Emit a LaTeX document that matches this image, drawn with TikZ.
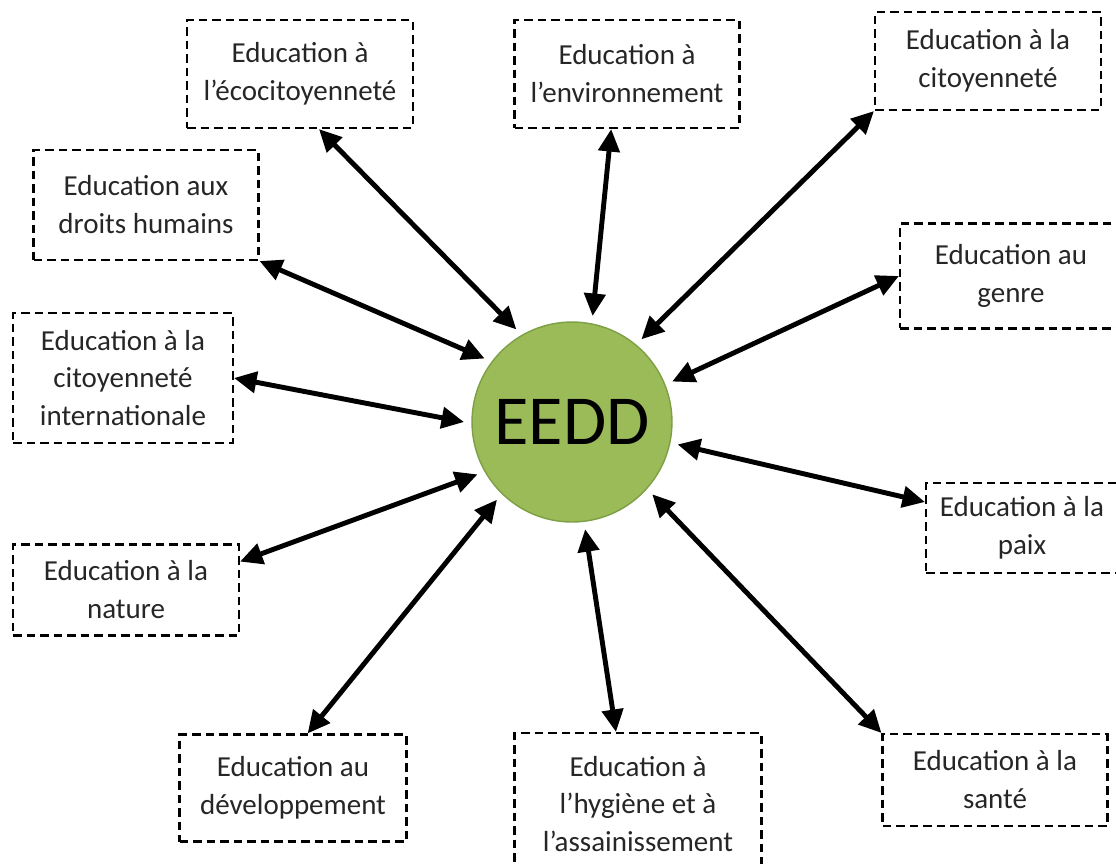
\documentclass[tikz,border=0pt]{standalone}
\usepackage{fontspec}
\setmainfont{Carlito}
\usetikzlibrary{arrows.meta}
\definecolor{olive}{RGB}{155,187,89}
\definecolor{olivedark}{RGB}{125,160,70}

\begin{document}
\begin{tikzpicture}[x=0.02cm, y=-0.02cm,
    box/.style={draw, dashed, dash pattern=on 0.17cm off 0.1cm, line width=1.2pt,
      minimum width=4.5cm, minimum height=2.16cm, align=center, text=black!85,
      font=\fontsize{16.5pt}{21.6pt}\selectfont},
    link/.style={line width=2.8pt,
      {Triangle[length=0.45cm,width=0.42cm]}-{Triangle[length=0.45cm,width=0.42cm]}}]
    \useasboundingbox (0,0) rectangle (1116,863);

    % 中心の円
    \node[circle, fill=olive, draw=olivedark, line width=0.8pt, minimum size=4cm,
      inner sep=0pt, outer sep=0.16cm, font=\fontsize{40pt}{44pt}\selectfont] (eedd) at (572,422) {EEDD};

    % 周りの箱
    \node[box, minimum width=4.52cm] (eco) at (300,74) {Education à\\l’écocitoyenneté};
    \node[box] (env) at (627,74) {Education à\\l’environnement};
    \node[box, minimum width=4.52cm, minimum height=1.96cm] (cit) at (988,61) {Education à la\\citoyenneté};
    \node[box, minimum height=2.2cm] (droits) at (146,205) {Education aux\\droits humains};
    \node[box, minimum width=4.44cm, minimum height=2.1cm] (genre) at (1011,276) {Education au\\genre};
    \node[box, minimum width=4.4cm, minimum height=2.6cm] (inter) at (123,378) {Education à la\\citoyenneté\\internationale};
    \node[box, minimum width=3.84cm, minimum height=1.8cm] (paix) at (1022,528) {Education à la\\paix};
    \node[box, minimum width=4.52cm, minimum height=1.82cm] (nature) at (126,590) {Education à la\\nature};
    \node[box, minimum width=4.54cm, minimum height=2.14cm] (dev) at (293,788) {Education au\\développement};
    \node[box, minimum width=4.94cm, minimum height=2.84cm] (hyg) at (638,804) {Education à\\l’hygiène et à\\l’assainissement};
    \node[box, minimum height=1.84cm] (sante) at (995,780) {Education à la\\santé};

    % 双方向の矢印
    \draw[link] (eco.-71) -- (eedd.121);
    \draw[link] (env.-106) -- (eedd.79);
    \draw[link] (cit.south west) -- (eedd.50);
    \draw[link] (droits.south east) -- (eedd.144);
    \draw[link] (genre.west) -- (eedd.22);
    \draw[link] (inter.east) -- (eedd.180);
    \draw[link] (paix.165) -- (eedd.-12);
    \draw[link] (nature.14) -- (eedd.209);
    \draw[link] (dev.75) -- (eedd.226);
    \draw[link] (hyg.107) -- (eedd.-83);
    \draw[link] (sante.north west) -- (eedd.-42);

  \end{tikzpicture}
\end{document}
